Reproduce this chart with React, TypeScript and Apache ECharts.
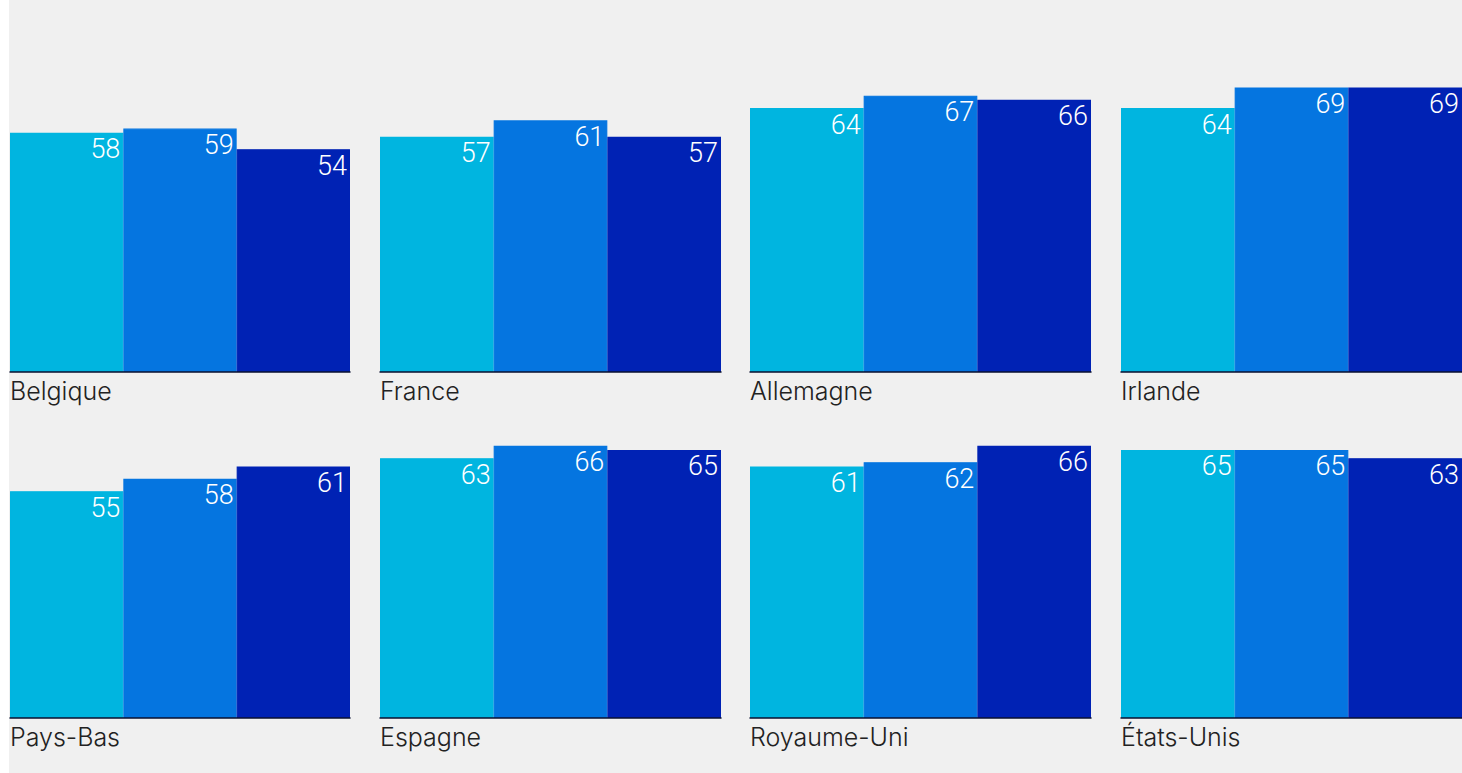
import React, { useEffect, useRef } from "react";
import * as echarts from "echarts";

// Countries, one small panel each (4 per row)
const countries = [
  "Belgique",
  "France",
  "Allemagne",
  "Irlande",
  "Pays-Bas",
  "Espagne",
  "Royaume-Uni",
  "États-Unis",
];

// Three series per country, shown left to right inside each panel
const groupNames = ["Groupe 1", "Groupe 2", "Groupe 3"];
const groupOne = [58, 57, 64, 64, 55, 63, 61, 65];
const groupTwo = [59, 61, 67, 69, 58, 66, 62, 65];
const groupThree = [54, 57, 66, 69, 61, 65, 66, 63];

const groupColors = ["#00b5e0", "#0575e0", "#0022b4"];

const LABEL_FONT = "Inter, 'Liberation Sans', Arial, sans-serif";
const VALUE_FONT = "Roboto, 'Liberation Sans', Arial, sans-serif";

export default function App() {
  const ref = useRef<HTMLDivElement>(null);

  useEffect(() => {
    if (!ref.current) return;
    const chart = echarts.init(ref.current, undefined, { renderer: "svg" });

    const colLefts = [0, 371, 741, 1112];
    const panelWidth = 341;
    const rowBaselines = [372, 718];
    const yMax = 70;
    const pxPerUnit = 4.125;
    const panelHeight = yMax * pxPerUnit;

    const grids: any[] = [];
    const xAxes: any[] = [];
    const yAxes: any[] = [];
    const series: any[] = [];
    const groups = [groupOne, groupTwo, groupThree];

    countries.forEach((country, i) => {
      const col = i % 4;
      const row = Math.floor(i / 4);
      grids.push({
        left: colLefts[col],
        top: rowBaselines[row] - panelHeight,
        width: panelWidth,
        height: panelHeight,
        containLabel: false,
      });
      xAxes.push({
        type: "category",
        gridIndex: i,
        data: [country],
        z: 5,
        axisLine: { show: true, lineStyle: { color: "#0a1030", width: 1.5 } },
        axisTick: { show: false },
        axisLabel: { show: false },
        name: country,
        nameLocation: "start",
        nameGap: 0,
        nameTextStyle: {
          align: "left",
          verticalAlign: "top",
          fontFamily: LABEL_FONT,
          fontSize: 25,
          fontWeight: 300,
          color: "#222222",
          padding: [6, 0, 0, 0],
        },
      });
      yAxes.push({
        type: "value",
        gridIndex: i,
        min: 0,
        max: yMax,
        show: false,
        splitLine: { show: false },
      });
      groups.forEach((values, g) => {
        series.push({
          type: "bar",
          name: groupNames[g],
          xAxisIndex: i,
          yAxisIndex: i,
          data: [values[i]],
          barGap: "0%",
          barCategoryGap: "0%",
          itemStyle: {
            color: groupColors[g],
            borderColor: groupColors[g],
            borderWidth: 1.2,
          },
          label: {
            show: true,
            position: "insideTopRight",
            distance: 3,
            color: "#ffffff",
            fontFamily: VALUE_FONT,
            fontSize: 27,
            fontWeight: 300,
          },
        });
      });
    });

    chart.setOption({
      animation: false,
      backgroundColor: "#f0f0f0",
      grid: grids,
      xAxis: xAxes,
      yAxis: yAxes,
      series,
    });

    return () => chart.dispose();
  }, []);

  return (
    <div
      ref={ref}
      style={{
        position: "absolute",
        left: 9,
        top: 0,
        width: 1453,
        height: 773,
        background: "#f0f0f0",
      }}
    />
  );
}
